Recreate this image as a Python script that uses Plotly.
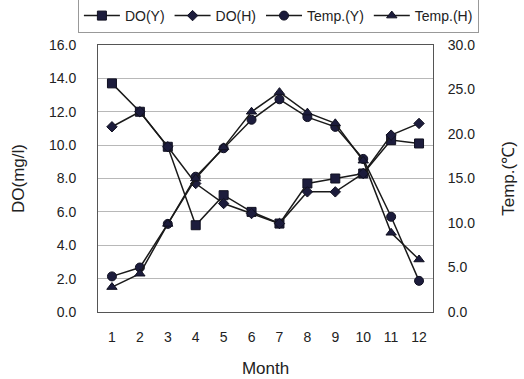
import plotly.graph_objects as go

months = list(range(1, 13))
do_y = [13.7, 12.0, 9.9, 5.2, 7.0, 6.0, 5.3, 7.7, 8.0, 8.3, 10.3, 10.1]
do_h = [11.1, 12.0, 9.9, 7.7, 6.5, 5.9, 5.3, 7.2, 7.2, 8.3, 10.6, 11.3]
temp_y = [4.0, 5.0, 9.9, 15.2, 18.4, 21.6, 23.9, 21.9, 20.8, 17.2, 10.7, 3.5]
temp_h = [2.8, 4.3, 9.9, 15.0, 18.5, 22.5, 24.7, 22.4, 21.2, 17.0, 8.9, 5.9]

do_ticks = [0, 2, 4, 6, 8, 10, 12, 14, 16]
temp_ticks = [0, 5, 10, 15, 20, 25, 30]

FONT = "Liberation Sans, Arial, sans-serif"
MARK = "#1c1c3c"
LINE = dict(color="#1a1a1a", width=1.5)

fig = go.Figure()
series = [
    ("DO(Y)", do_y, "square", 9, "y"),
    ("DO(H)", do_h, "diamond", 8, "y"),
    ("Temp.(Y)", temp_y, "circle", 9, "y2"),
    ("Temp.(H)", temp_h, "triangle-up", 9, "y2"),
]
for name, vals, sym, size, ax in series:
    fig.add_trace(go.Scatter(
        x=months, y=vals, name=name, yaxis=ax, mode="lines+markers",
        line=LINE,
        marker=dict(symbol=sym, size=size, color=MARK,
                    line=dict(color="#101020", width=1)),
    ))

fig.update_layout(
    width=524, height=379,
    margin=dict(l=98, r=91, t=45, b=67, autoexpand=False),
    paper_bgcolor="white", plot_bgcolor="white",
    font=dict(family=FONT, size=14, color="#222222"),
    showlegend=True,
    legend=dict(
        orientation="h", x=-0.06, xanchor="left", y=1.045, yanchor="bottom",
        font=dict(size=14),
        bordercolor="#999999", borderwidth=1,
        itemwidth=36, tracegroupgap=0,
    ),
    xaxis=dict(
        range=[0.5, 12.5], tickvals=months, ticktext=[str(m) for m in months],
        showgrid=False, zeroline=False, showline=True, linecolor="#555555",
        mirror=True, ticks="", ticklabelstandoff=12,
        title=dict(text="Month", standoff=18),
    ),
    yaxis=dict(
        range=[0, 16], tickvals=do_ticks,
        ticktext=[f"{v:.1f}" for v in do_ticks],
        showgrid=True, gridcolor="#b8b8b8", gridwidth=1, zeroline=False,
        showline=True, linecolor="#555555", ticks="", ticklabelstandoff=18,
        title=dict(text="DO(mg/l)", standoff=20),
    ),
    yaxis2=dict(
        range=[0, 30], tickvals=temp_ticks,
        ticktext=[f"{v:.1f}" for v in temp_ticks],
        overlaying="y", side="right", showgrid=False, zeroline=False,
        showline=True, linecolor="#555555", ticks="", ticklabelstandoff=11,
        title=dict(text="Temp.(℃)", standoff=27),
    ),
)

fig.write_html("out.html")
